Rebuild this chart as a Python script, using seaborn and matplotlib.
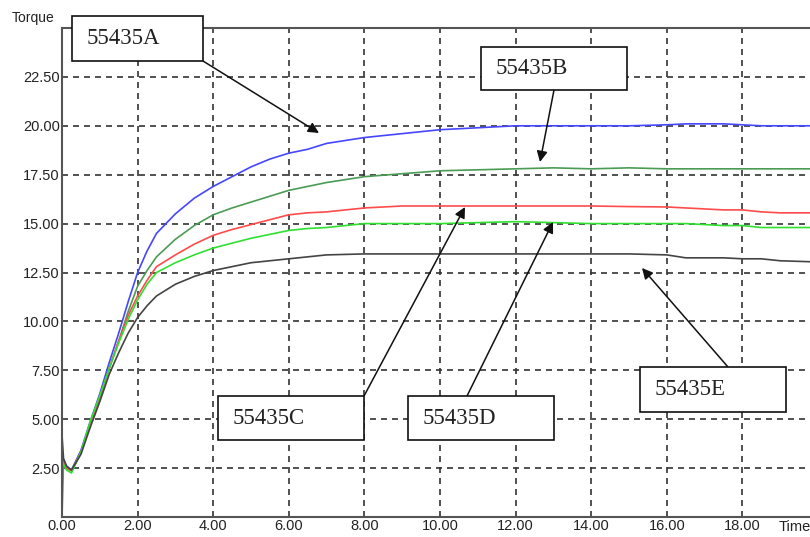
import numpy as np
import pandas as pd
import matplotlib
matplotlib.use("Agg")
import matplotlib.pyplot as plt
from matplotlib.patches import Rectangle
import seaborn as sns

# ---- data ----
time = [0, 0.04, 0.12, 0.25, 0.5, 0.75, 1.0, 1.25, 1.5, 1.75, 2.0, 2.25, 2.5, 3.0,
        3.5, 4.0, 4.5, 5.0, 5.5, 6.0, 6.5, 7.0, 8.0, 9.0, 10.0, 11.0, 12.0, 13.0,
        14.0, 15.0, 16.0, 16.5, 17.0, 17.5, 18.0, 18.5, 19.0, 19.8]
s_A = [3.4, 2.9, 2.6, 2.4, 3.4, 4.9, 6.3, 7.9, 9.4, 11.0, 12.5, 13.6, 14.5, 15.5,
       16.3, 16.9, 17.4, 17.9, 18.3, 18.6, 18.8, 19.1, 19.4, 19.6, 19.8, 19.9, 20.0, 20.0,
       20.0, 20.0, 20.05, 20.1, 20.1, 20.1, 20.05, 20.0, 20.0, 20.0]
s_B = [0.0, 2.8, 2.5, 2.4, 3.3, 4.8, 6.1, 7.6, 9.0, 10.5, 11.8, 12.6, 13.3, 14.2,
       14.9, 15.45, 15.8, 16.1, 16.4, 16.7, 16.9, 17.1, 17.4, 17.55, 17.7, 17.75, 17.8, 17.85,
       17.8, 17.85, 17.8, 17.8, 17.8, 17.8, 17.8, 17.8, 17.8, 17.8]
s_C = [1.6, 2.8, 2.5, 2.35, 3.3, 4.8, 6.1, 7.6, 9.0, 10.3, 11.3, 12.1, 12.8, 13.4,
       13.95, 14.4, 14.7, 14.95, 15.2, 15.45, 15.55, 15.6, 15.8, 15.9, 15.9, 15.9, 15.9, 15.9,
       15.9, 15.87, 15.85, 15.8, 15.75, 15.7, 15.7, 15.6, 15.55, 15.55]
s_D = [2.8, 2.7, 2.4, 2.25, 3.3, 4.9, 6.2, 7.6, 8.9, 10.1, 11.1, 11.9, 12.5, 13.0,
       13.4, 13.75, 14.0, 14.25, 14.45, 14.65, 14.75, 14.8, 15.0, 15.0, 15.0, 15.05, 15.1, 15.05,
       15.0, 15.0, 15.0, 15.0, 14.95, 14.9, 14.9, 14.8, 14.8, 14.8]
s_E = [4.2, 3.0, 2.6, 2.4, 3.2, 4.6, 5.9, 7.3, 8.4, 9.4, 10.2, 10.8, 11.3, 11.9,
       12.3, 12.6, 12.8, 13.0, 13.1, 13.2, 13.3, 13.4, 13.45, 13.45, 13.45, 13.45, 13.45, 13.45,
       13.45, 13.45, 13.4, 13.25, 13.25, 13.25, 13.2, 13.2, 13.1, 13.05]
series_names = ["55435A", "55435B", "55435C", "55435D", "55435E"]
y_ticks = [2.5, 5.0, 7.5, 10.0, 12.5, 15.0, 17.5, 20.0, 22.5]
y_ticklabels = ["2.50", "5.00", "7.50", "10.00", "12.50", "15.00", "17.50", "20.00", "22.50"]
x_ticks = [0, 2, 4, 6, 8, 10, 12, 14, 16, 18]
x_ticklabels = ["0.00", "2.00", "4.00", "6.00", "8.00", "10.00", "12.00", "14.00", "16.00", "18.00"]

df = pd.concat([pd.DataFrame({"Time": time, "Torque": v, "Part": n})
                for n, v in zip(series_names, [s_A, s_B, s_C, s_D, s_E])])

colors = {"55435A": "#4646ff", "55435B": "#4b9b55", "55435C": "#ff4b4b",
          "55435D": "#30e030", "55435E": "#444444"}

sns.set_style("white")
W, H = 810, 537
fig = plt.figure(figsize=(W / 100, H / 100), dpi=100)
fig.patch.set_facecolor("white")
ax = fig.add_axes([62 / W, (H - 517) / H, (W - 62) / W, (517 - 28) / H])

sns.lineplot(data=df, x="Time", y="Torque", hue="Part", palette=colors,
             hue_order=series_names, linewidth=1.2, legend=False, ax=ax,
             estimator=None, sort=False)

ax.set_xlim(0, (W - 62) / 37.8)
ax.set_ylim(0, 25.0)
ax.set_xticks(x_ticks)
ax.set_xticklabels(x_ticklabels, fontsize=10.5, family="Liberation Sans", color="#222222")
ax.set_yticks(y_ticks)
ax.set_yticklabels(y_ticklabels, fontsize=10.5, family="Liberation Sans", color="#222222")
ax.tick_params(length=0, pad=1.5)
ax.set_xlabel("")
ax.set_ylabel("")
ax.grid(True, color="#333333", linestyle=(0, (3.6, 3.0)), linewidth=1.2)
ax.set_axisbelow(True)
for side in ["left", "bottom", "top"]:
    ax.spines[side].set_color("#555555")
    ax.spines[side].set_linewidth(1.5)
ax.spines["right"].set_visible(False)

fig.text(12 / W, 1 - 18 / H, "Torque", fontsize=10, family="Liberation Sans",
         color="#222222", va="center", ha="left")
fig.text(779 / W, 1 - 527 / H, "Time", fontsize=10.5, family="Liberation Sans",
         color="#222222", va="center", ha="left")


def f(px, py):
    return (px / W, 1 - py / H)


boxes = {
    "55435A": ((72, 16, 203, 61), (203, 61), (319, 133)),
    "55435B": ((481, 47, 627, 90), (554, 90), (540, 162)),
    "55435C": ((218, 396, 364, 440), (364, 396), (465, 207)),
    "55435D": ((408, 396, 554, 440), (467, 396), (553, 222)),
    "55435E": ((640, 367, 786, 412), (728, 367), (642, 268)),
}
for name, (box, start, tip) in boxes.items():
    x0, y0, x1, y1 = box
    fx0, fy1 = f(x0, y1)
    rect = Rectangle((fx0, fy1), (x1 - x0) / W, (y1 - y0) / H,
                     transform=fig.transFigure, facecolor="white",
                     edgecolor="#111111", linewidth=1.2, zorder=5)
    fig.patches.append(rect)
    fig.text((x0 + 15) / W, 1 - ((y0 + y1) / 2) / H, name, fontsize=16.5,
             family="Liberation Serif", color="#222222", va="center", ha="left",
             zorder=6)
    ax.annotate("", xy=f(*tip), xycoords="figure fraction",
                xytext=f(*start), textcoords="figure fraction",
                arrowprops=dict(arrowstyle="-|>", color="#111111", lw=1.1,
                                mutation_scale=16, shrinkA=0, shrinkB=0),
                annotation_clip=False)

fig.savefig("out.png", dpi=100, facecolor="white")
